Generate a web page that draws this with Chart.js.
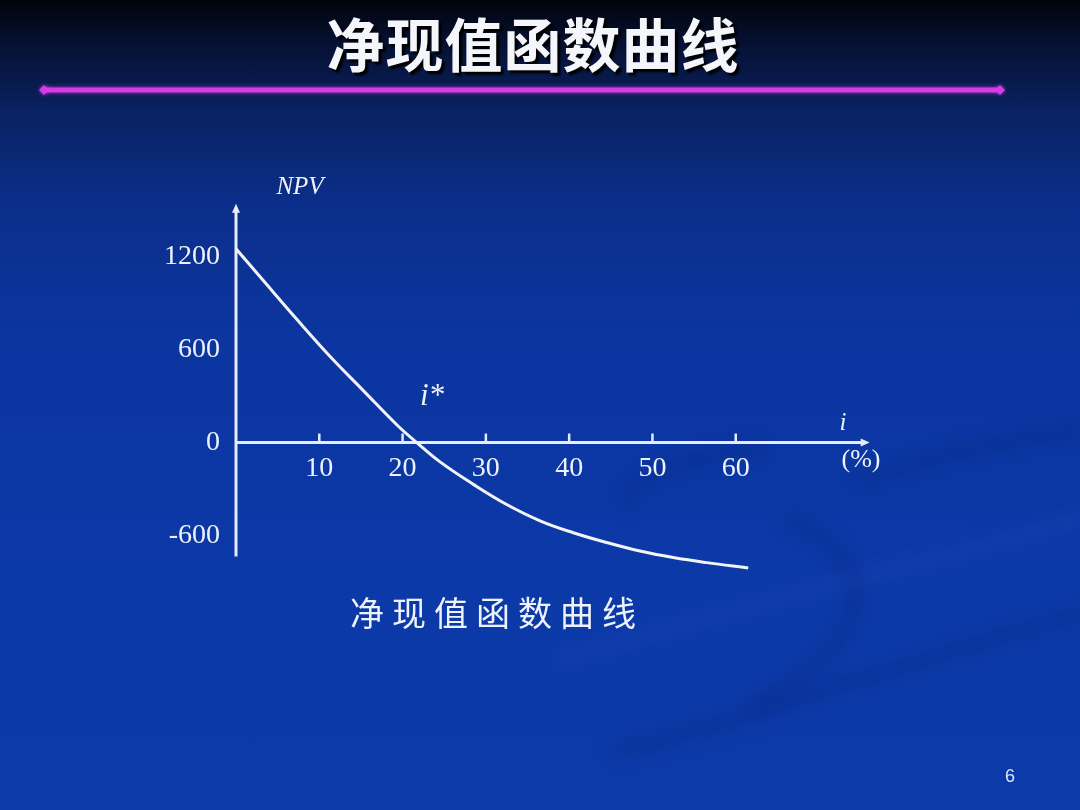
<!DOCTYPE html>
<html>
<head>
<meta charset="utf-8">
<script src="https://cdn.jsdelivr.net/npm/chart.js@4.4.1/dist/chart.umd.min.js"></script>
<style>
  html, body {
    margin: 0;
    padding: 0;
  }
  body {
    width: 1080px;
    height: 810px;
    overflow: hidden;
    position: relative;
    background: linear-gradient(to bottom, #02040c 0%, #061236 6%, #0a2262 14%, #0b2e8a 25%, #0b35a0 42%, #0c39a8 70%, #0c3aa8 100%);
  }
  #title {
    position: absolute;
    left: 0;
    width: 1066px;
    top: 0px;
    text-align: center;
    font-family: "Noto Sans CJK SC", sans-serif;
    font-weight: 700;
    font-size: 58px;
    color: #f4f6fb;
    text-shadow: 3px 3px 2px #000;
    letter-spacing: 1px;
  }
  #myCanvas {
    position: absolute;
    left: 0;
    top: 0;
  }
</style>
</head>
<body>
<div id="title">净现值函数曲线</div>
<canvas id="myCanvas" width="1080" height="810"></canvas>
<script>
'use strict';

// interest rate i (%) and NPV
let rateValues = [0, 3.2, 7.3, 11.3, 15.2, 19.3, 21.7, 24.5, 28.5, 32.5, 36.5, 40.5, 44.5, 48.5, 52.5, 56.5, 61.5];
let npvValues = [1250, 1050, 795, 555, 340, 115, 0, -125, -270, -400, -505, -582, -645, -700, -742, -775, -810];

let xTicks = [10, 20, 30, 40, 50, 60];
let yTicks = [-600, 0, 600, 1200];

const axisColor = '#e6ecf8';

function drawArrow(ctx, x, y, dir) {
  ctx.beginPath();
  if (dir === 'up') {
    ctx.moveTo(x, y - 4);
    ctx.lineTo(x - 4, y + 5);
    ctx.lineTo(x + 4, y + 5);
  } else {
    ctx.moveTo(x + 4, y);
    ctx.lineTo(x - 5, y - 4);
    ctx.lineTo(x - 5, y + 4);
  }
  ctx.closePath();
  ctx.fill();
}

function drawDiamond(ctx, x, y) {
  ctx.beginPath();
  ctx.moveTo(x - 5, y);
  ctx.lineTo(x, y - 5);
  ctx.lineTo(x + 5, y);
  ctx.lineTo(x, y + 5);
  ctx.closePath();
  ctx.fill();
}

const slideDecor = {
  id: 'slideDecor',
  beforeDraw(chart) {
    const ctx = chart.ctx;
    ctx.save();
    // faint swooshes in the lower right
    ctx.filter = 'blur(8px)';
    ctx.lineCap = 'round';
    ctx.strokeStyle = 'rgba(0, 22, 90, 0.16)';
    ctx.lineWidth = 16;
    ctx.beginPath();
    ctx.moveTo(620, 750);
    ctx.bezierCurveTo(780, 710, 940, 650, 1080, 615);
    ctx.stroke();
    ctx.beginPath();
    ctx.moveTo(760, 700);
    ctx.bezierCurveTo(880, 640, 880, 560, 790, 520);
    ctx.stroke();
    ctx.beginPath();
    ctx.moveTo(625, 500);
    ctx.bezierCurveTo(640, 470, 700, 455, 760, 450);
    ctx.stroke();
    ctx.beginPath();
    ctx.moveTo(860, 480);
    ctx.bezierCurveTo(940, 455, 1010, 440, 1080, 430);
    ctx.stroke();
    ctx.strokeStyle = 'rgba(90, 130, 230, 0.08)';
    ctx.lineWidth = 14;
    ctx.beginPath();
    ctx.moveTo(560, 660);
    ctx.bezierCurveTo(760, 600, 940, 560, 1080, 520);
    ctx.stroke();
    ctx.restore();

    // magenta rule under the title
    ctx.save();
    ctx.shadowColor = 'rgba(230, 60, 240, 0.7)';
    ctx.shadowBlur = 4;
    ctx.strokeStyle = '#d63ce6';
    ctx.fillStyle = '#d63ce6';
    ctx.lineWidth = 5;
    ctx.beginPath();
    ctx.moveTo(44, 90);
    ctx.lineTo(1000, 90);
    ctx.stroke();
    drawDiamond(ctx, 44, 90);
    drawDiamond(ctx, 1000, 90);
    ctx.restore();
  },
  beforeDatasetsDraw(chart) {
    const ctx = chart.ctx;
    const xs = chart.scales.x;
    const ys = chart.scales.y;
    const x0 = xs.getPixelForValue(0);
    const y0 = ys.getPixelForValue(0);
    ctx.save();
    ctx.strokeStyle = axisColor;
    ctx.fillStyle = axisColor;
    ctx.lineWidth = 3;
    // vertical axis
    const yTop = ys.getPixelForValue(1515);
    ctx.beginPath();
    ctx.moveTo(x0, ys.getPixelForValue(-735));
    ctx.lineTo(x0, yTop);
    ctx.stroke();
    drawArrow(ctx, x0, yTop, 'up');
    // horizontal axis
    const xEnd = xs.getPixelForValue(75.6);
    ctx.beginPath();
    ctx.moveTo(x0, y0);
    ctx.lineTo(xEnd, y0);
    ctx.stroke();
    drawArrow(ctx, xEnd, y0, 'right');
    // small tick marks above the axis
    ctx.lineWidth = 2.5;
    xTicks.forEach(function (v) {
      const px = xs.getPixelForValue(v);
      ctx.beginPath();
      ctx.moveTo(px, y0);
      ctx.lineTo(px, y0 - 9);
      ctx.stroke();
    });
    ctx.restore();
  },
  afterDraw(chart) {
    const ctx = chart.ctx;
    ctx.save();
    ctx.fillStyle = '#eef2fa';
    ctx.textAlign = 'center';
    ctx.textBaseline = 'middle';
    ctx.font = 'italic 25px "Liberation Serif"';
    ctx.fillText('NPV', 300, 187);
    ctx.font = 'italic 31px "Liberation Serif"';
    ctx.fillText('i*', 432, 397);
    ctx.font = 'italic 25px "Liberation Serif"';
    ctx.fillText('i', 843, 423);
    ctx.font = '26px "Liberation Serif"';
    ctx.fillText('(%)', 861, 460);
    ctx.font = '34px "Noto Sans CJK SC"';
    ctx.textAlign = 'left';
    if ('letterSpacing' in ctx) {
      ctx.letterSpacing = '8px';
    }
    ctx.fillText('净现值函数曲线', 350, 613);
    if ('letterSpacing' in ctx) {
      ctx.letterSpacing = '0px';
    }
    ctx.textAlign = 'center';
    ctx.font = '18px "Liberation Sans"';
    ctx.fillStyle = '#dfe6f5';
    ctx.fillText('6', 1010, 777);
    ctx.restore();
  }
};

let curvePoints = [];
for (let i = 0; i < rateValues.length; i++) {
  curvePoints.push({ x: rateValues[i], y: npvValues[i] });
}

const data = {
  datasets: [{
    label: 'NPV',
    data: curvePoints,
    borderColor: '#f2f4fa',
    borderWidth: 3,
    pointRadius: 0,
    tension: 0.4,
    fill: false
  }]
};

const config = {
  type: 'line',
  data: data,
  options: {
    responsive: false,
    animation: false,
    layout: {
      padding: { left: 0, right: 211, top: 207, bottom: 228 }
    },
    plugins: {
      legend: { display: false },
      tooltip: { enabled: false }
    },
    scales: {
      x: {
        type: 'linear',
        min: 0,
        max: 76,
        position: { y: 0 },
        afterBuildTicks: function (scale) {
          scale.ticks = xTicks.map(function (v) { return { value: v }; });
        },
        grid: { display: false },
        border: { display: false },
        ticks: {
          color: '#eef2fa',
          padding: 1,
          autoSkip: false,
          maxRotation: 0,
          callback: function (value) { return String(value); },
          font: { family: 'Liberation Serif', size: 28 }
        }
      },
      y: {
        type: 'linear',
        min: -900,
        max: 1520,
        afterFit: function (scale) {
          scale.width = 236;
        },
        afterBuildTicks: function (scale) {
          scale.ticks = yTicks.map(function (v) { return { value: v }; });
        },
        grid: { display: false },
        border: { display: false },
        ticks: {
          color: '#eef2fa',
          padding: 8,
          callback: function (value) { return String(value); },
          font: { family: 'Liberation Serif', size: 28 }
        }
      }
    }
  },
  plugins: [slideDecor]
};

const chart = document.getElementById('myCanvas');
const myChart = new Chart(chart, config);
</script>
</body>
</html>
